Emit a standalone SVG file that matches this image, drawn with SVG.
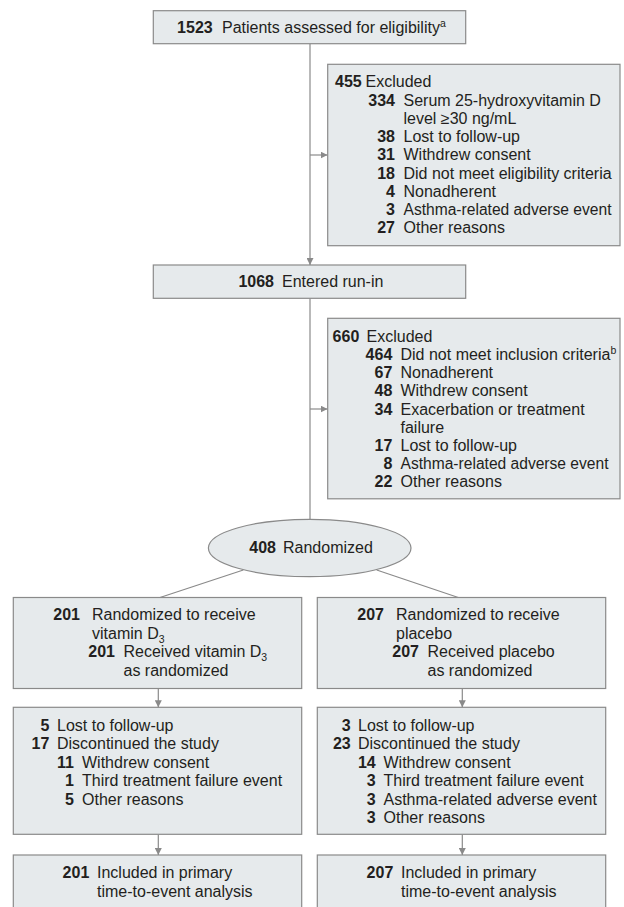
<svg xmlns="http://www.w3.org/2000/svg" width="624" height="907" viewBox="0 0 624 907">
<style>
text{font-family:"Liberation Sans",Arial,sans-serif;font-size:16px;fill:#231f20}
.n{font-weight:bold}
.e{text-anchor:end;font-weight:bold}
.box{fill:#e6eaec;stroke:#8a8a8a;stroke-width:1.2}
.ln{fill:none;stroke:#8a8a8a;stroke-width:1.2}
.sup{font-size:10.5px}
</style>
<defs>
<marker id="ah" viewBox="0 0 10 10" refX="10" refY="5" markerWidth="7" markerHeight="7" markerUnits="userSpaceOnUse" orient="auto">
<path d="M0,0 L10,5 L0,10 z" fill="#8a8a8a"/>
</marker>
</defs>
<g id="connectors">
<line class="ln" x1="310" y1="44" x2="310" y2="265" marker-end="url(#ah)"/>
<line class="ln" x1="310" y1="155" x2="327.5" y2="155" marker-end="url(#ah)"/>
<line class="ln" x1="310" y1="298.5" x2="310" y2="519.5"/>
<line class="ln" x1="310" y1="409" x2="327.5" y2="409" marker-end="url(#ah)"/>
<line class="ln" x1="243.3" y1="570" x2="160" y2="597.5"/>
<line class="ln" x1="376.7" y1="570" x2="458.3" y2="597.5"/>
<line class="ln" x1="158.3" y1="688.5" x2="158.3" y2="707.3" marker-end="url(#ah)"/>
<line class="ln" x1="462.3" y1="688.5" x2="462.3" y2="707.3" marker-end="url(#ah)"/>
<line class="ln" x1="158.3" y1="834.5" x2="158.3" y2="855" marker-end="url(#ah)"/>
<line class="ln" x1="462.3" y1="834.5" x2="462.3" y2="855" marker-end="url(#ah)"/>
</g>
<g id="assessed">
<rect class="box" x="153.3" y="10.7" width="312.4" height="33"/>
<text x="212.7" y="33.3" class="e">1523</text>
<text x="222" y="33.3">Patients assessed for eligibility<tspan class="sup" dy="-6">a</tspan></text>
</g>
<g id="excluded1">
<rect class="box" x="327.7" y="64.3" width="292.3" height="181.4"/>
<text x="361.7" y="87.3" class="e">455</text><text x="365.5" y="87.3">Excluded</text>
<text x="395" y="105.5" class="e">334</text><text x="403.5" y="105.5">Serum 25-hydroxyvitamin D</text>
<text x="403.5" y="123.8">level ≥30 ng/mL</text>
<text x="395" y="142" class="e">38</text><text x="403.5" y="142">Lost to follow-up</text>
<text x="395" y="160.3" class="e">31</text><text x="403.5" y="160.3">Withdrew consent</text>
<text x="395" y="178.5" class="e">18</text><text x="403.5" y="178.5">Did not meet eligibility criteria</text>
<text x="395" y="196.8" class="e">4</text><text x="403.5" y="196.8">Nonadherent</text>
<text x="395" y="215" class="e">3</text><text x="403.5" y="215" textLength="208" lengthAdjust="spacingAndGlyphs">Asthma-related adverse event</text>
<text x="395" y="233.3" class="e">27</text><text x="403.5" y="233.3">Other reasons</text>
</g>
<g id="runin">
<rect class="box" x="153.3" y="265" width="312.4" height="33.3"/>
<text x="274" y="286.7" class="e">1068</text>
<text x="282" y="286.7">Entered run-in</text>
</g>
<g id="excluded2">
<rect class="box" x="327.7" y="318.3" width="292.3" height="180.5"/>
<text x="359.3" y="341.7" class="e">660</text><text x="366.5" y="341.7">Excluded</text>
<text x="392.3" y="359.9" class="e">464</text><text x="400.5" y="359.9">Did not meet inclusion criteria<tspan class="sup" dy="-6">b</tspan></text>
<text x="392.3" y="378.1" class="e">67</text><text x="400.5" y="378.1">Nonadherent</text>
<text x="392.3" y="396.3" class="e">48</text><text x="400.5" y="396.3">Withdrew consent</text>
<text x="392.3" y="414.5" class="e">34</text><text x="400.5" y="414.5">Exacerbation or treatment</text>
<text x="400.5" y="432.7">failure</text>
<text x="392.3" y="450.9" class="e">17</text><text x="400.5" y="450.9">Lost to follow-up</text>
<text x="392.3" y="469.1" class="e">8</text><text x="400.5" y="469.1" textLength="208" lengthAdjust="spacingAndGlyphs">Asthma-related adverse event</text>
<text x="392.3" y="487.3" class="e">22</text><text x="400.5" y="487.3">Other reasons</text>
</g>
<g id="randomized">
<ellipse class="box" cx="309.7" cy="548" rx="101.3" ry="28.7"/>
<text x="276" y="553" class="e">408</text>
<text x="283" y="553">Randomized</text>
</g>
<g id="vitd-alloc">
<rect class="box" x="13.3" y="597.5" width="288.4" height="91"/>
<text x="80" y="620" class="e">201</text><text x="92" y="620">Randomized to receive</text>
<text x="92" y="638.7">vitamin D<tspan class="sup" dy="4">3</tspan></text>
<text x="115" y="657.3" class="e">201</text><text x="123.5" y="657.3">Received vitamin D<tspan class="sup" dy="4">3</tspan></text>
<text x="123.5" y="676">as randomized</text>
</g>
<g id="placebo-alloc">
<rect class="box" x="317.3" y="597.5" width="288.4" height="91"/>
<text x="384" y="620" class="e">207</text><text x="396" y="620">Randomized to receive</text>
<text x="396" y="638.7">placebo</text>
<text x="419" y="657.3" class="e">207</text><text x="427.5" y="657.3">Received placebo</text>
<text x="427.5" y="676">as randomized</text>
</g>
<g id="vitd-followup">
<rect class="box" x="13.3" y="707.3" width="288.4" height="127"/>
<text x="49.3" y="730.7" class="e">5</text><text x="57" y="730.7">Lost to follow-up</text>
<text x="49.3" y="749.2" class="e">17</text><text x="57" y="749.2">Discontinued the study</text>
<text x="74" y="767.7" class="e">11</text><text x="82" y="767.7">Withdrew consent</text>
<text x="74" y="786.2" class="e">1</text><text x="82" y="786.2">Third treatment failure event</text>
<text x="74" y="804.7" class="e">5</text><text x="82" y="804.7">Other reasons</text>
</g>
<g id="placebo-followup">
<rect class="box" x="317.3" y="707.3" width="288.4" height="127"/>
<text x="350.7" y="730.7" class="e">3</text><text x="358" y="730.7">Lost to follow-up</text>
<text x="350.7" y="749.2" class="e">23</text><text x="358" y="749.2">Discontinued the study</text>
<text x="375.7" y="767.7" class="e">14</text><text x="383.5" y="767.7">Withdrew consent</text>
<text x="375.7" y="786.2" class="e">3</text><text x="383.5" y="786.2">Third treatment failure event</text>
<text x="375.7" y="804.7" class="e">3</text><text x="383.5" y="804.7">Asthma-related adverse event</text>
<text x="375.7" y="823.2" class="e">3</text><text x="383.5" y="823.2">Other reasons</text>
</g>
<g id="vitd-analysis">
<rect class="box" x="13.3" y="855" width="288.4" height="60"/>
<text x="89.3" y="878.3" class="e">201</text><text x="97" y="878.3">Included in primary</text>
<text x="97" y="896.7">time-to-event analysis</text>
</g>
<g id="placebo-analysis">
<rect class="box" x="317.3" y="855" width="288.4" height="60"/>
<text x="393.3" y="878.3" class="e">207</text><text x="401" y="878.3">Included in primary</text>
<text x="401" y="896.7">time-to-event analysis</text>
</g>
</svg>
